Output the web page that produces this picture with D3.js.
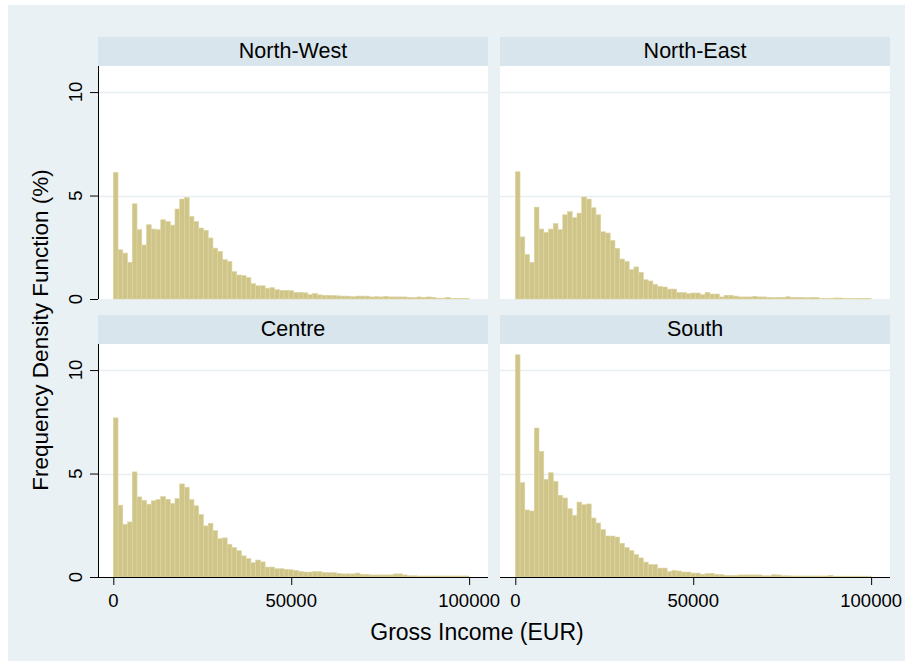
<!DOCTYPE html>
<html>
<head>
<meta charset="utf-8">
<script src="https://cdn.jsdelivr.net/npm/d3@7/dist/d3.min.js"></script>
<style>
  body { margin: 0; background: #ffffff; }
  svg { display: block; }
  text { font-family: "Liberation Sans", Arial, Helvetica, sans-serif; fill: #000; }
</style>
</head>
<body>
<svg id="chart" width="908" height="666"></svg>
<script>
// Income histograms by macro-region: percent of households per income bin
const regions = ["North-West", "North-East", "Centre", "South"];
const binWidth = 100000 / 75;

const northWest = [6.12, 2.38, 2.22, 1.77, 4.6, 3.35, 2.61, 3.59, 3.38, 3.35,
  3.83, 3.75, 3.57, 4.35, 4.83, 4.9, 3.99, 3.74, 3.43, 3.32,
  2.95, 2.46, 2.3, 1.9, 1.82, 1.32, 1.16, 1.13, 1.03, 0.74,
  0.64, 0.64, 0.52, 0.55, 0.45, 0.42, 0.42, 0.4, 0.32, 0.32,
  0.3, 0.21, 0.26, 0.2, 0.18, 0.18, 0.17, 0.15, 0.14, 0.14,
  0.11, 0.14, 0.14, 0.14, 0.1, 0.11, 0.1, 0.13, 0.1, 0.1,
  0.1, 0.1, 0.08, 0.07, 0.1, 0.08, 0.1, 0.08, 0.04, 0.04,
  0.08, 0.03, 0.03, 0.03, 0.03];

const northEast = [6.15, 3.0, 2.16, 1.77, 4.44, 3.38, 3.22, 3.38, 3.64, 3.35,
  4.07, 4.22, 3.93, 4.15, 4.93, 4.83, 4.41, 4.07, 3.25, 3.19,
  2.83, 2.45, 1.93, 1.82, 1.42, 1.55, 1.29, 0.93, 0.87, 0.71,
  0.61, 0.58, 0.48, 0.48, 0.32, 0.32, 0.26, 0.29, 0.29, 0.21,
  0.32, 0.24, 0.24, 0.1, 0.18, 0.18, 0.14, 0.1, 0.1, 0.1,
  0.13, 0.1, 0.1, 0.08, 0.07, 0.08, 0.08, 0.11, 0.08, 0.08,
  0.08, 0.06, 0.08, 0.08, 0.02, 0.02, 0.02, 0.05, 0.05, 0.02,
  0.02, 0.02, 0.02, 0.02, 0.02];

const centre = [7.69, 3.47, 2.55, 2.66, 5.08, 3.87, 3.71, 3.52, 3.68, 3.74,
  3.89, 3.76, 3.55, 3.79, 4.5, 4.34, 3.74, 3.44, 3.02, 2.47,
  2.6, 2.24, 1.85, 1.89, 1.58, 1.42, 1.27, 1.02, 0.89, 0.69,
  0.82, 0.73, 0.48, 0.48, 0.4, 0.4, 0.37, 0.35, 0.32, 0.27,
  0.24, 0.24, 0.26, 0.26, 0.21, 0.21, 0.21, 0.18, 0.15, 0.15,
  0.15, 0.19, 0.13, 0.13, 0.1, 0.1, 0.1, 0.1, 0.1, 0.15,
  0.15, 0.1, 0.06, 0.06, 0.05, 0.05, 0.05, 0.05, 0.05, 0.05,
  0.05, 0.05, 0.05, 0.05, 0.05];

const south = [10.74, 4.56, 3.24, 3.19, 7.2, 6.07, 4.72, 5.04, 4.62, 3.95,
  3.82, 3.3, 2.98, 3.62, 3.49, 3.53, 2.85, 2.61, 2.29, 1.98,
  1.98, 1.93, 1.63, 1.42, 1.27, 1.09, 0.92, 0.72, 0.6, 0.6,
  0.43, 0.43, 0.27, 0.32, 0.29, 0.24, 0.24, 0.19, 0.19, 0.13,
  0.16, 0.18, 0.13, 0.11, 0.08, 0.08, 0.08, 0.1, 0.1, 0.1,
  0.1, 0.1, 0.06, 0.06, 0.11, 0.1, 0.06, 0.06, 0.05, 0.05,
  0.05, 0.05, 0.05, 0.05, 0.05, 0.05, 0.08, 0.04, 0.04, 0.04,
  0.04, 0.04, 0.04, 0.04, 0.04];

const seriesByRegion = [northWest, northEast, centre, south];
const xTicks = [0, 50000, 100000];
const yTicks = [0, 5, 10];
const xTitle = "Gross Income (EUR)";
const yTitle = "Frequency Density Function (%)";

// Layout of the 2x2 grid
const colLeft = [98, 500];
const headerTop = [37, 315];
const panelW = 390, headerH = 29, plotH = 233;

const colors = {
  page: "#eaf1f4",
  header: "#d9e5ec",
  grid: "#e6eef2",
  barFill: "#d0c588",
  barStroke: "#ddd5a3"
};

const svg = d3.select("#chart");

svg.append("rect")
  .attr("x", 8).attr("y", 5).attr("width", 897).attr("height", 656)
  .attr("fill", colors.page);

const x = d3.scaleLinear().domain([-4300, 105300]).range([0, panelW]);
const y = d3.scaleLinear().domain([0, 11.26]).range([plotH, 0]);

regions.forEach((name, idx) => {
  const col = idx % 2, row = Math.floor(idx / 2);
  const left = colLeft[col];
  const top = headerTop[row];
  const plotTop = top + headerH;
  const values = seriesByRegion[idx];

  // header strip with region name
  svg.append("rect")
    .attr("x", left).attr("y", top).attr("width", panelW).attr("height", headerH)
    .attr("fill", colors.header);
  svg.append("text")
    .attr("x", left + panelW / 2).attr("y", top + 21)
    .attr("text-anchor", "middle")
    .style("font-size", "21.5px")
    .text(name);

  const g = svg.append("g").attr("transform", `translate(${left},${plotTop})`);

  g.append("rect")
    .attr("width", panelW).attr("height", plotH)
    .attr("fill", "#ffffff");

  // horizontal gridlines
  g.selectAll("line.grid")
    .data(yTicks.filter(t => t > 0))
    .enter().append("line")
    .attr("class", "grid")
    .attr("x1", 0).attr("x2", panelW)
    .attr("y1", d => Math.round(y(d)) + 0.5).attr("y2", d => Math.round(y(d)) + 0.5)
    .attr("stroke", colors.grid).attr("stroke-width", 1.5);

  // histogram bars
  g.selectAll("rect.bar")
    .data(values)
    .enter().append("rect")
    .attr("class", "bar")
    .attr("x", (d, i) => x(i * binWidth))
    .attr("width", (d, i) => x((i + 1) * binWidth) - x(i * binWidth))
    .attr("y", d => y(d))
    .attr("height", d => y(0) - y(d))
    .attr("fill", colors.barFill)
    .attr("stroke", colors.barStroke)
    .attr("stroke-width", 0.6);

  // y axis on the left column only
  if (col === 0) {
    const yAxis = d3.axisLeft(y).tickValues(yTicks).tickSize(8).tickFormat("");
    const ya = g.append("g").call(yAxis);
    ya.select(".domain").attr("stroke", "#000").attr("d", `M0.5,0V${plotH}`);
    ya.selectAll(".tick line").attr("stroke", "#000");
    yTicks.forEach(t => {
      g.append("text")
        .attr("transform", `translate(-16.5,${y(t)}) rotate(-90)`)
        .attr("text-anchor", "middle")
        .style("font-size", "18.5px")
        .text(d3.format("d")(t));
    });
  }

  // x axis on the bottom row only
  if (row === 1) {
    const xAxis = d3.axisBottom(x).tickValues(xTicks).tickSize(8).tickFormat("");
    const xa = g.append("g").attr("transform", `translate(0,${plotH})`).call(xAxis);
    xa.select(".domain").attr("stroke", "#000").attr("d", `M0,0.5H${panelW}`);
    xa.selectAll(".tick line").attr("stroke", "#000");
    xTicks.forEach(t => {
      g.append("text")
        .attr("x", x(t)).attr("y", plotH + 30)
        .attr("text-anchor", "middle")
        .style("font-size", "18.5px")
        .text(d3.format("d")(t));
    });
  }
});

// axis titles
svg.append("text")
  .attr("x", 477).attr("y", 640)
  .attr("text-anchor", "middle")
  .style("font-size", "23px")
  .text(xTitle);

svg.append("text")
  .attr("transform", "translate(48,330) rotate(-90)")
  .attr("text-anchor", "middle")
  .style("font-size", "22.5px")
  .text(yTitle);
</script>
</body>
</html>
